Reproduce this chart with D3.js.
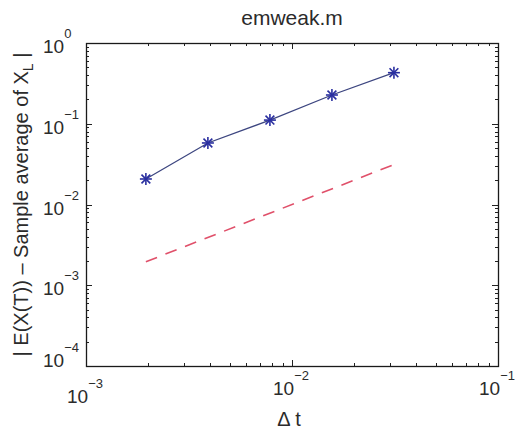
<!DOCTYPE html>
<html>
<head>
<meta charset="utf-8">
<script src="https://cdn.jsdelivr.net/npm/d3@7"></script>
<style>
  body { margin: 0; background: #fff; }
  text { font-family: "Liberation Sans", Arial, sans-serif; fill: #2b2b2b; }
</style>
</head>
<body>
<script>
// step sizes (2^-9 .. 2^-5) and measured weak error
const dtValues = [0.001953, 0.003906, 0.007813, 0.015625, 0.03125];
const errValues = [0.0207, 0.0578, 0.111, 0.227, 0.429];
// order-1 reference line
const refX = [0.001953, 0.03125];
const refY = [0.001953, 0.03125];

const xTicks = [1e-3, 1e-2, 1e-1];
const xTickExp = ["\u22123", "\u22122", "\u22121"];
const yTicks = [1e-4, 1e-3, 1e-2, 1e-1, 1];
const yTickExp = ["\u22124", "\u22123", "\u22122", "\u22121", "0"];

const W = 516, H = 429;
const m = { left: 86, right: 18, top: 43, bottom: 63 };

const svg = d3.select("body").append("svg")
  .attr("width", W)
  .attr("height", H);

const x = d3.scaleLog().domain([1e-3, 1e-1]).range([m.left, W - m.right]);
const y = d3.scaleLog().domain([1e-4, 1]).range([H - m.bottom, m.top]);

const x0 = x.range()[0], x1 = x.range()[1];
const y0 = y.range()[0], y1 = y.range()[1];

// ticks (inward, on all four sides)
const ticks = svg.append("g").attr("stroke", "#222").attr("stroke-width", 1);
x.ticks().forEach(t => {
  const major = xTicks.includes(t);
  const len = major ? 6 : 3;
  const px = Math.round(x(t)) + 0.5;
  ticks.append("line").attr("x1", px).attr("x2", px).attr("y1", y0).attr("y2", y0 - len);
  ticks.append("line").attr("x1", px).attr("x2", px).attr("y1", y1).attr("y2", y1 + len);
});
y.ticks().forEach(t => {
  const major = yTicks.some(v => Math.abs(v - t) / v < 1e-6);
  const len = major ? 6 : 3;
  const py = Math.round(y(t)) + 0.5;
  ticks.append("line").attr("y1", py).attr("y2", py).attr("x1", x0).attr("x2", x0 + len);
  ticks.append("line").attr("y1", py).attr("y2", py).attr("x1", x1).attr("x2", x1 - len);
});

// box
svg.append("rect")
  .attr("x", x0 + 0.5)
  .attr("y", y1 + 0.5)
  .attr("width", x1 - x0)
  .attr("height", y0 - y1)
  .attr("fill", "none")
  .attr("stroke", "#1a1a1a")
  .attr("stroke-width", 1.3);

// tick labels
xTicks.forEach((t, i) => {
  const lbl = svg.append("text")
    .attr("x", x(t) - 19)
    .attr("y", i === 0 ? 403 : 395)
    .attr("font-size", "19px");
  lbl.append("tspan").text("10");
  lbl.append("tspan").attr("dy", -15).attr("font-size", "13px").text(xTickExp[i]);
});
yTicks.forEach((t, i) => {
  const lbl = svg.append("text")
    .attr("x", 43)
    .attr("y", y(t) + (i === 0 ? 1 : 10))
    .attr("font-size", "19px");
  lbl.append("tspan").text("10");
  lbl.append("tspan").attr("dy", -15).attr("font-size", "13px").text(yTickExp[i]);
});

// title and axis labels
svg.append("text")
  .attr("x", (x0 + x1) / 2)
  .attr("y", 25)
  .attr("text-anchor", "middle")
  .attr("font-size", "21px")
  .text("emweak.m");

svg.append("text")
  .attr("x", (x0 + x1) / 2 - 3)
  .attr("y", 426)
  .attr("text-anchor", "middle")
  .attr("font-size", "20px")
  .text("\u0394 t");

const yl = svg.append("text")
  .attr("transform", `translate(28,${(y0 + y1) / 2}) rotate(-90)`)
  .attr("text-anchor", "middle")
  .attr("font-size", "20px");
yl.append("tspan").text("| E(X(T)) \u2013 Sample average of X");
yl.append("tspan").attr("dy", 5).attr("font-size", "14px").text("L");
yl.append("tspan").attr("dy", -5).text(" |");

// reference slope line
const line = d3.line().x(d => x(d[0])).y(d => y(d[1]));
svg.append("path")
  .datum(d3.zip(refX, refY))
  .attr("d", line)
  .attr("fill", "none")
  .attr("stroke", "#e0506a")
  .attr("stroke-width", 1.6)
  .attr("stroke-dasharray", "12,9");

// weak error curve
svg.append("path")
  .datum(d3.zip(dtValues, errValues))
  .attr("d", line)
  .attr("fill", "none")
  .attr("stroke", "#3d4680")
  .attr("stroke-width", 1.3);

// asterisk markers
const r = 6, rd = 4.4;
const star = svg.append("g").attr("stroke", "#2a2fa0").attr("stroke-width", 1.6);
dtValues.forEach((d, i) => {
  const cx = x(d), cy = y(errValues[i]);
  star.append("line").attr("x1", cx - r).attr("x2", cx + r).attr("y1", cy).attr("y2", cy);
  star.append("line").attr("x1", cx).attr("x2", cx).attr("y1", cy - r).attr("y2", cy + r);
  star.append("line").attr("x1", cx - rd).attr("x2", cx + rd).attr("y1", cy - rd).attr("y2", cy + rd);
  star.append("line").attr("x1", cx - rd).attr("x2", cx + rd).attr("y1", cy + rd).attr("y2", cy - rd);
});
</script>
</body>
</html>
